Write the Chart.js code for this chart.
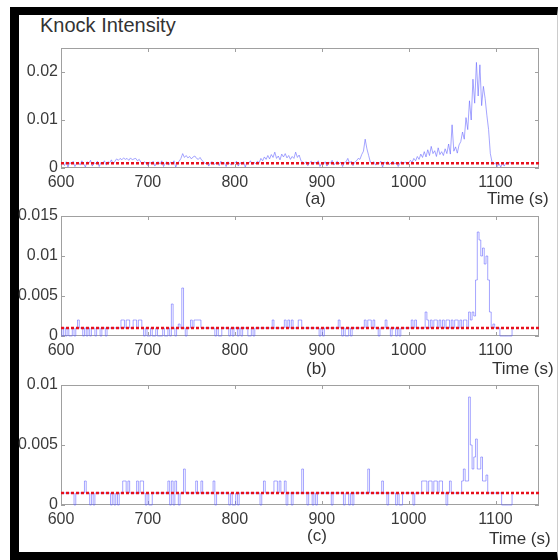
<!DOCTYPE html>
<html>
<head>
<meta charset="utf-8">
<script src="https://cdn.jsdelivr.net/npm/chart.js@4.4.0/dist/chart.umd.min.js"></script>
<style>
  html, body { margin: 0; padding: 0; background: #fff; }
  body { width: 558px; height: 560px; position: relative; overflow: hidden; font-family: "Liberation Sans", Arial, sans-serif; color: #333; }
  #frame { position: absolute; left: 10px; top: 7px; width: 538px; height: 537px; border-left: 9px solid #000; border-top: 8px solid #000; border-bottom: 8px solid #000; border-right: 1px solid #ccc; }
  .panel { position: absolute; left: 0; width: 558px; height: 160px; }
  .txt { position: absolute; white-space: nowrap; line-height: 1; }
</style>
</head>
<body>
<div id="frame"></div>
<div class="panel" style="top:40px"><canvas id="chart-a"></canvas></div>
<div class="panel" style="top:208px"><canvas id="chart-b"></canvas></div>
<div class="panel" style="top:377px"><canvas id="chart-c"></canvas></div>

<div class="txt" style="left:40px;top:15px;font-size:20px">Knock Intensity</div>
<div class="txt" style="left:305px;top:190px;font-size:17px">(a)</div>
<div class="txt" style="left:487px;top:190px;font-size:17px">Time (s)</div>
<div class="txt" style="left:306px;top:360px;font-size:17px">(b)</div>
<div class="txt" style="left:492px;top:360px;font-size:17px">Time (s)</div>
<div class="txt" style="left:307px;top:527px;font-size:17px">(c)</div>
<div class="txt" style="left:489px;top:530px;font-size:17px">Time (s)</div>

<script>
// samples every 2 s starting at 600 s
const T0 = 600;
const DT = 2;

const xTicks = [600, 700, 800, 900, 1000, 1100];
const xMin = 600;
const xMax = 1150;

const threshold = 0.001;

// (a)
const knockA = [
  0.0008,0.0012,0.0005,0.0013,0.0002,0.0011,0.0009,0.0014,0.0003,0.0010,
  0.0012,0.0006,0.0015,0.0009,0.0002,0.0013,0.0010,0.0016,0.0004,0.0011,
  0.0009,0.0014,0.0003,0.0012,0.0010,0.0015,0.0006,0.0013,0.0011,0.0017,
  0.0008,0.0014,0.0019,0.0016,0.0020,0.0017,0.0021,0.0018,0.0020,0.0016,
  0.0021,0.0017,0.0019,0.0020,0.0015,0.0018,0.0012,0.0007,0.0013,0.0010,
  0.0005,0.0012,0.0009,0.0014,0.0004,0.0011,0.0013,0.0008,0.0015,0.0003,
  0.0010,0.0013,0.0006,0.0012,0.0009,0.0015,0.0002,0.0011,0.0014,0.0020,
  0.0030,0.0022,0.0026,0.0021,0.0024,0.0019,0.0023,0.0025,0.0020,0.0018,
  0.0022,0.0016,0.0013,0.0009,0.0012,0.0004,0.0011,0.0013,0.0007,0.0010,
  0.0012,0.0005,0.0014,0.0009,0.0011,0.0003,0.0013,0.0010,0.0006,0.0012,
  0.0010,0.0014,0.0004,0.0011,0.0008,0.0013,0.0002,0.0012,0.0010,0.0015,
  0.0007,0.0012,0.0009,0.0014,0.0011,0.0020,0.0015,0.0023,0.0018,0.0026,
  0.0019,0.0028,0.0022,0.0033,0.0020,0.0025,0.0017,0.0029,0.0023,0.0030,
  0.0021,0.0026,0.0018,0.0024,0.0020,0.0033,0.0022,0.0027,0.0016,0.0012,
  0.0009,0.0013,0.0005,0.0011,0.0014,0.0007,0.0012,0.0010,0.0015,0.0003,
  0.0011,0.0008,0.0013,0.0004,0.0012,0.0010,0.0016,0.0006,0.0011,0.0014,
  0.0009,0.0012,0.0003,0.0011,0.0013,0.0020,0.0010,0.0014,0.0005,0.0012,
  0.0015,0.0020,0.0018,0.0028,0.0035,0.0060,0.0040,0.0026,0.0012,0.0010,
  0.0013,0.0006,0.0011,0.0009,0.0014,0.0002,0.0012,0.0010,0.0013,0.0007,
  0.0011,0.0014,0.0008,0.0012,0.0003,0.0010,0.0013,0.0009,0.0012,0.0011,
  0.0010,0.0016,0.0012,0.0020,0.0015,0.0024,0.0018,0.0029,0.0022,0.0034,
  0.0023,0.0038,0.0026,0.0045,0.0030,0.0036,0.0024,0.0042,0.0028,0.0034,
  0.0026,0.0040,0.0030,0.0050,0.0029,0.0090,0.0035,0.0044,0.0031,0.0048,
  0.0055,0.0075,0.0060,0.0105,0.0080,0.0140,0.0100,0.0185,0.0135,0.0220,
  0.0150,0.0215,0.0130,0.0170,0.0145,0.0110,0.0080,0.0030,0.0012,0.0008,
  0.0011,0.0003,0.0009,0.0002,0.0010,0.0004,0.0011,0.0009,0.0012,0.0010,
  0.0010
];

// (b)
const knockB = [
  0.001,0,0.001,0,0.001,0,0,0.001,0,0.001,
  0.002,0.001,0.001,0,0.001,0,0.001,0,0.001,0.001,
  0,0.001,0.001,0,0.001,0.001,0,0.001,0.001,0.001,
  0.001,0.001,0.001,0.001,0.001,0.002,0.002,0.001,0.002,0.002,
  0.001,0.001,0.002,0.002,0.001,0.002,0.002,0.001,0,0.001,
  0,0,0.001,0,0,0.001,0,0,0,0.001,
  0,0,0.001,0,0.004,0.001,0,0.001,0.0015,0.001,
  0.006,0.001,0,0.001,0.001,0.002,0.001,0.002,0.002,0.002,
  0.002,0.001,0.001,0.001,0.001,0.001,0.001,0.001,0.001,0,
  0.001,0,0,0.001,0.001,0.001,0.001,0,0.001,0,
  0.001,0.001,0,0.001,0,0.001,0.001,0.001,0,0,
  0.001,0,0.001,0.001,0.001,0.001,0.001,0.001,0.001,0.001,
  0.001,0.001,0.002,0.001,0.001,0.001,0.001,0.001,0.001,0.002,
  0.001,0.002,0.001,0.002,0.001,0.001,0.001,0.002,0.002,0.001,
  0.001,0.001,0.001,0.001,0.001,0.001,0.001,0.001,0.001,0,
  0.001,0,0.001,0.001,0.001,0.001,0.001,0.001,0.001,0.001,
  0.002,0.001,0,0.001,0,0,0.001,0,0.001,0.001,
  0.001,0.001,0.001,0.001,0.001,0.002,0.001,0.002,0.002,0.001,
  0.002,0.001,0.001,0,0.001,0.001,0.001,0.002,0.001,0.001,
  0,0.001,0.001,0,0.001,0,0.001,0.001,0.001,0.001,
  0.001,0.001,0.002,0.001,0.002,0.001,0.001,0.001,0.001,0.001,
  0.003,0.002,0.001,0.002,0.001,0.002,0.002,0.001,0.002,0.001,
  0.002,0.001,0.002,0.002,0.001,0.002,0.001,0.002,0.002,0.001,
  0.002,0.001,0.002,0.002,0.001,0.003,0.002,0.003,0.0025,0.007,
  0.013,0.012,0.010,0.011,0.009,0.010,0.007,0.003,0.001,0.0015,
  0.001,0.001,0.001,0,0,0,0,0,0,0,
  0.001
];

// (c)
const knockC = [
  0.001,0.001,0.001,0.001,0.001,0.001,0.001,0.001,0,0.001,
  0.001,0.001,0.001,0.001,0.002,0.001,0.001,0,0.001,0,
  0.001,0.001,0.001,0.001,0.001,0.001,0.001,0.001,0.001,0,
  0.001,0,0.001,0,0.001,0.001,0.002,0.002,0.001,0.002,
  0.001,0.001,0.001,0.001,0.002,0.001,0.002,0.002,0.001,0,
  0.001,0,0,0.001,0.001,0.001,0.001,0.001,0.001,0.001,
  0.001,0.001,0.002,0,0.002,0,0.002,0.001,0,0.001,
  0.001,0.003,0.001,0.001,0.001,0.001,0.001,0.001,0.002,0.001,
  0.001,0.002,0.001,0.001,0.001,0.001,0.001,0.001,0.002,0,
  0.001,0.001,0.001,0.001,0.001,0.001,0.001,0,0.001,0,
  0,0.001,0,0.001,0.001,0.001,0.001,0.001,0.001,0.001,
  0.001,0.001,0.001,0.001,0.001,0,0.001,0.002,0.001,0.001,
  0.001,0.001,0.001,0.002,0.002,0.001,0.002,0.001,0.001,0.002,
  0,0.001,0.001,0,0.001,0.001,0.001,0.001,0.001,0.003,
  0.001,0.001,0,0.001,0.001,0,0.001,0,0.001,0.001,
  0.001,0.001,0.001,0.001,0.001,0.001,0,0.001,0.001,0.001,
  0.001,0.001,0.001,0,0.001,0.001,0,0.001,0,0.001,
  0.001,0.001,0.001,0.001,0.001,0.001,0.001,0.003,0.001,0.001,
  0.001,0.001,0.001,0.001,0.001,0.002,0.001,0.001,0,0.001,
  0.001,0.001,0.001,0,0.001,0,0,0.001,0.001,0.001,
  0.001,0.001,0.001,0,0.001,0.001,0.001,0.001,0.002,0.002,
  0.002,0.001,0.002,0.002,0.001,0.002,0.002,0.001,0.002,0.002,
  0.001,0.001,0,0.001,0.002,0.001,0.001,0.001,0.001,0.001,
  0.001,0.002,0.003,0.002,0.002,0.009,0.005,0.003,0.004,0.0055,
  0.003,0.003,0.004,0.002,0.002,0.0025,0.001,0.001,0.001,0.001,
  0.001,0.001,0.001,0.001,0,0,0,0,0,0,
  0.001
];

const yTicksA = [0, 0.01, 0.02];
const yMaxA = 0.025;
const yTicksB = [0, 0.005, 0.01, 0.015];
const yMaxB = 0.015;
const yTicksC = [0, 0.005, 0.01];
const yMaxC = 0.01;

const tickFont = { family: "'Liberation Sans', Arial, sans-serif", size: 16 };
const tickColor = "#3a3a3a";

// matlab-ish box with inward ticks
const boxPlugin = {
  id: "panelbox",
  beforeDatasetsDraw(chart) {
    const { ctx, chartArea: a, scales } = chart;
    const x = scales.x;
    const y = scales.y;
    ctx.save();
    ctx.strokeStyle = "#a0a0a0";
    ctx.lineWidth = 1;
    ctx.strokeRect(a.left + 0.5, a.top + 0.5, a.right - a.left - 1, a.bottom - a.top - 1);
    ctx.beginPath();
    x.ticks.forEach((t) => {
      const px = Math.round(x.getPixelForValue(t.value)) + 0.5;
      ctx.moveTo(px, a.top); ctx.lineTo(px, a.top + 4);
      ctx.moveTo(px, a.bottom); ctx.lineTo(px, a.bottom - 4);
    });
    y.ticks.forEach((t) => {
      const py = Math.round(y.getPixelForValue(t.value)) + 0.5;
      ctx.moveTo(a.left, py); ctx.lineTo(a.left + 4, py);
      ctx.moveTo(a.right, py); ctx.lineTo(a.right - 4, py);
    });
    ctx.stroke();
    ctx.restore();
  },
};

function toPoints(values) {
  return values.map((v, i) => ({ x: T0 + i * DT, y: v }));
}

function makePanel(id, values, yTicks, yMax, stepped) {
  const ctx = document.getElementById(id);
  return new Chart(ctx, {
    type: "line",
    data: {
      datasets: [
        {
          data: [{ x: xMin, y: threshold }, { x: xMax, y: threshold }],
          borderColor: "#e8101c",
          borderWidth: 2.5,
          borderDash: [3, 2],
          pointRadius: 0,
          order: 0,
        },
        {
          data: toPoints(values),
          borderColor: "rgba(105, 105, 255, 0.6)",
          borderWidth: 1,
          pointRadius: 0,
          tension: 0,
          stepped: stepped ? "middle" : false,
          clip: 3,
          order: 1,
        },
      ],
    },
    options: {
      responsive: true,
      maintainAspectRatio: false,
      animation: false,
      layout: { padding: { top: 8, right: 19, left: 0, bottom: 0 } },
      plugins: { legend: { display: false }, tooltip: { enabled: false } },
      scales: {
        x: {
          type: "linear",
          min: xMin,
          max: xMax,
          grid: { display: false, drawTicks: false },
          border: { display: false },
          afterBuildTicks: (axis) => { axis.ticks = xTicks.map((v) => ({ value: v })); },
          afterFit: (axis) => { axis.height = 32; axis.paddingLeft = 0; axis.paddingRight = 0; },
          ticks: { color: tickColor, font: tickFont, padding: 5, maxRotation: 0, autoSkip: false, callback: (v) => String(v) },
        },
        y: {
          min: yTicks[0],
          max: yMax,
          grid: { display: false, drawTicks: false },
          border: { display: false },
          afterBuildTicks: (axis) => { axis.ticks = yTicks.map((v) => ({ value: v })); },
          afterFit: (axis) => { axis.width = 61; axis.paddingTop = 0; axis.paddingBottom = 0; },
          ticks: { color: tickColor, font: tickFont, padding: 3, callback: (v) => String(v) },
        },
      },
    },
    plugins: [boxPlugin],
  });
}

makePanel("chart-a", knockA, yTicksA, yMaxA, false);
makePanel("chart-b", knockB, yTicksB, yMaxB, true);
makePanel("chart-c", knockC, yTicksC, yMaxC, true);
</script>
</body>
</html>
